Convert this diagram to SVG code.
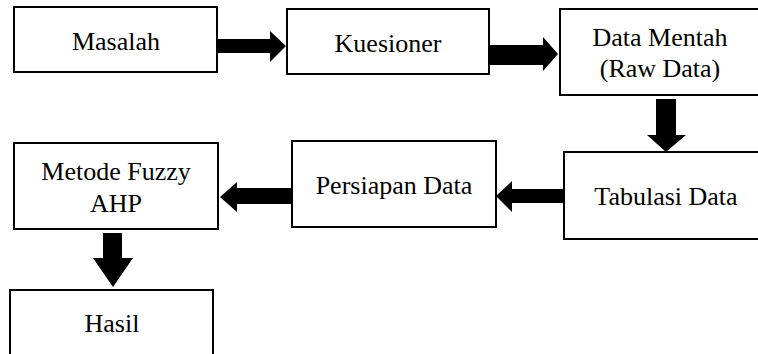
<svg xmlns="http://www.w3.org/2000/svg" width="758" height="354" viewBox="0 0 758 354">
<style>
.box{fill:#fff;stroke:#000;stroke-width:2}
.lbl{font-family:'Liberation Serif',Tinos,'Nimbus Roman','Times New Roman',Times,'DejaVu Serif',serif;font-size:26px;fill:#000;text-anchor:middle}
.arr{fill:#000}
</style>
<rect width="758" height="354" fill="#fff"/>
<g id="masalah"><rect class="box" x="14" y="7" width="203" height="65"/><text class="lbl" x="116" y="50">Masalah</text></g>
<g id="kuesioner"><rect class="box" x="287" y="9" width="202" height="65"/><text class="lbl" x="388" y="52">Kuesioner</text></g>
<g id="datamentah"><rect class="box" x="560" y="9" width="200" height="86"/><text class="lbl" x="660" y="46">Data Mentah</text><text class="lbl" x="660" y="77">(Raw Data)</text></g>
<g id="tabulasi"><rect class="box" x="564" y="152" width="196" height="87"/><text class="lbl" x="666" y="205">Tabulasi Data</text></g>
<g id="persiapan"><rect class="box" x="292" y="141" width="204" height="86"/><text class="lbl" x="394" y="194">Persiapan Data</text></g>
<g id="metode"><rect class="box" x="14" y="143" width="204" height="86"/><text class="lbl" x="116" y="180">Metode Fuzzy</text><text class="lbl" x="116" y="212">AHP</text></g>
<g id="hasil"><rect class="box" x="10" y="290" width="203" height="70"/><text class="lbl" x="112" y="332">Hasil</text></g>
<g id="connectors">
<polygon class="arr" points="217,39 270,39 270,31 286,46 270,62 270,53 217,53"/>
<polygon class="arr" points="489,45 543,45 543,37 558,54 543,71 543,65 489,65"/>
<polygon class="arr" points="656,99 676,99 676,135 686,135 666,152 647,135 656,135"/>
<polygon class="arr" points="564,189 512,189 512,181 496,196 512,212 512,203 564,203"/>
<polygon class="arr" points="292,188 237,188 237,182 220,197 237,212 237,204 292,204"/>
<polygon class="arr" points="103,233 122,233 122,258 133,258 113,287 93,258 103,258"/>
</g>
</svg>
